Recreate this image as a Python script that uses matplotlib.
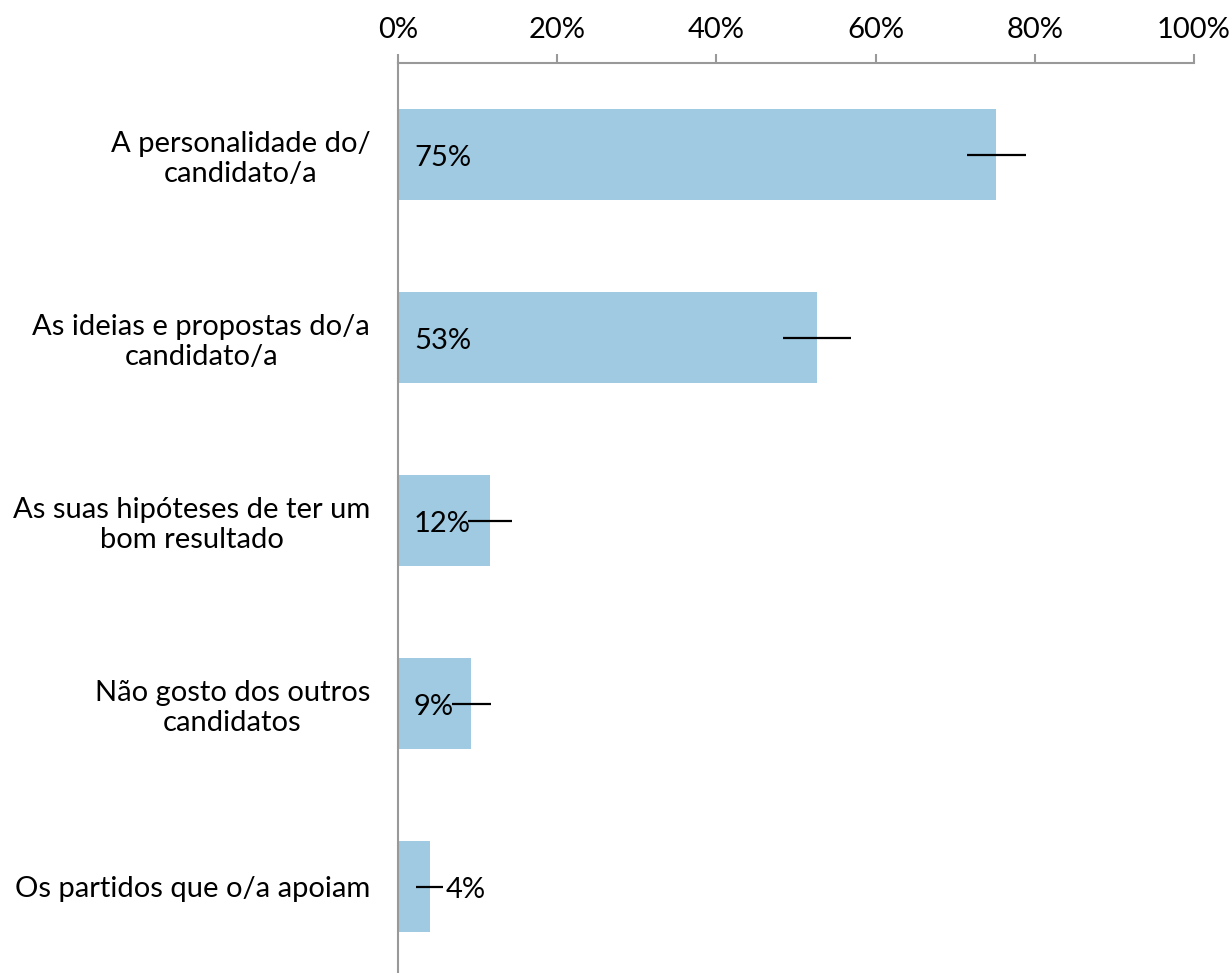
import matplotlib.pyplot as plt
from matplotlib.ticker import PercentFormatter

plt.rcParams['font.family'] = ['Lato', 'DejaVu Sans']

# data
categories = [
    "A personalidade do/\ncandidato/a",
    "As ideias e propostas do/a\ncandidato/a",
    "As suas hipóteses de ter um\nbom resultado",
    "Não gosto dos outros\ncandidatos",
    "Os partidos que o/a apoiam",
]
values = [75.1, 52.7, 11.6, 9.2, 4.0]
err_low = [71.5, 48.4, 8.8, 6.8, 2.3]
err_high = [78.9, 56.9, 14.3, 11.7, 5.7]
value_labels = ["75%", "53%", "12%", "9%", "4%"]

fig = plt.figure(figsize=(12.32, 9.73), dpi=100)
ax = fig.add_axes([398 / 1232, 1 - 978 / 973, 796 / 1232, 915 / 973])

ypos = list(range(len(categories)))
ax.barh(ypos, values, height=0.5, color="#9FCAE2", zorder=1)

# error bars drawn as plain horizontal lines, no caps
ax.hlines(ypos, err_low, err_high, color="black", linewidth=1.6, zorder=3)

for y, v, lab in zip(ypos, values, value_labels):
    x = 2 if v >= 6 else v + 2.0
    ax.text(x, y + 0.02, lab, ha="left", va="center", fontsize=21, color="black", zorder=2)

ax.set_xlim(0, 100)
ax.set_ylim(len(categories) - 0.5, -0.5)
ax.set_xticks([0, 20, 40, 60, 80, 100])
ax.xaxis.set_major_formatter(PercentFormatter(decimals=0))
ax.xaxis.tick_top()
ax.tick_params(axis="x", direction="out", length=6.5, width=1.5, color="#999999",
               labelsize=21, pad=8)

ax.set_yticks(ypos)
ax.set_yticklabels(categories, fontsize=21, multialignment="center")
ax.tick_params(axis="y", length=0, pad=20)

for s in ["right", "bottom"]:
    ax.spines[s].set_visible(False)
for s in ["top", "left"]:
    ax.spines[s].set_color("#999999")
    ax.spines[s].set_linewidth(1.5)

fig.savefig("out.png", dpi=100)
